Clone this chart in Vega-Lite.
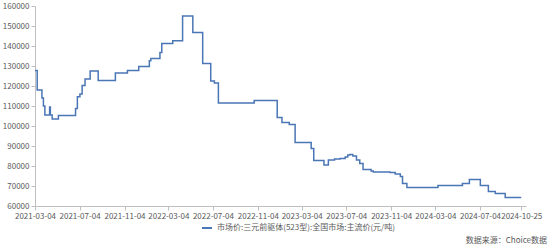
{
  "$schema": "https://vega.github.io/schema/vega-lite/v6.json",
  "width": 491,
  "height": 200,
  "autosize": "none",
  "padding": {"left": 35, "top": 6, "right": 24, "bottom": 39},
  "background": "white",
  "config": {
    "view": {"stroke": null},
    "font": "Noto Sans CJK SC",
    "axis": {"grid": false, "domainColor": "#bfbfbf", "tickColor": "#bfbfbf", "labelColor": "#595959", "labelFontSize": 8, "tickSize": 4, "labelFont": "Noto Sans CJK SC", "titleFontSize": 8}
  },
  "title": {"text": "数据来源：Choice数据", "orient": "bottom", "anchor": "end", "frame": "group", "fontSize": 8, "fontWeight": "normal", "color": "#595959", "font": "Noto Sans CJK SC", "offset": 5, "dx": 21},
  "data": {
    "values": [
      {"date": "2021-03-04", "value": 127800},
      {"date": "2021-03-10", "value": 118000},
      {"date": "2021-03-23", "value": 114000},
      {"date": "2021-03-27", "value": 110000},
      {"date": "2021-03-31", "value": 105500},
      {"date": "2021-04-13", "value": 109500},
      {"date": "2021-04-15", "value": 105500},
      {"date": "2021-04-20", "value": 103500},
      {"date": "2021-05-07", "value": 105300},
      {"date": "2021-06-23", "value": 108800},
      {"date": "2021-06-28", "value": 114600},
      {"date": "2021-07-05", "value": 116000},
      {"date": "2021-07-11", "value": 120200},
      {"date": "2021-07-19", "value": 123500},
      {"date": "2021-08-02", "value": 127500},
      {"date": "2021-08-24", "value": 122700},
      {"date": "2021-10-10", "value": 126500},
      {"date": "2021-11-12", "value": 127700},
      {"date": "2021-12-13", "value": 129800},
      {"date": "2022-01-11", "value": 132600},
      {"date": "2022-01-15", "value": 133800},
      {"date": "2022-02-09", "value": 136700},
      {"date": "2022-02-14", "value": 141300},
      {"date": "2022-03-16", "value": 142600},
      {"date": "2022-04-12", "value": 155000},
      {"date": "2022-05-10", "value": 146700},
      {"date": "2022-06-06", "value": 131300},
      {"date": "2022-06-28", "value": 122500},
      {"date": "2022-07-08", "value": 121500},
      {"date": "2022-07-19", "value": 111500},
      {"date": "2022-10-25", "value": 112700},
      {"date": "2022-12-27", "value": 104200},
      {"date": "2023-01-09", "value": 101800},
      {"date": "2023-01-29", "value": 100800},
      {"date": "2023-02-14", "value": 91800},
      {"date": "2023-03-30", "value": 88800},
      {"date": "2023-04-06", "value": 82800},
      {"date": "2023-05-04", "value": 80500},
      {"date": "2023-05-16", "value": 83000},
      {"date": "2023-06-02", "value": 83500},
      {"date": "2023-06-17", "value": 83800},
      {"date": "2023-07-01", "value": 84500},
      {"date": "2023-07-08", "value": 85500},
      {"date": "2023-07-14", "value": 85800},
      {"date": "2023-07-22", "value": 85000},
      {"date": "2023-08-01", "value": 83000},
      {"date": "2023-08-10", "value": 81300},
      {"date": "2023-08-19", "value": 78200},
      {"date": "2023-09-10", "value": 77500},
      {"date": "2023-09-16", "value": 77000},
      {"date": "2023-11-01", "value": 76800},
      {"date": "2023-11-15", "value": 76000},
      {"date": "2023-11-29", "value": 74700},
      {"date": "2023-12-05", "value": 71300},
      {"date": "2023-12-17", "value": 69300},
      {"date": "2024-03-11", "value": 70300},
      {"date": "2024-05-17", "value": 71200},
      {"date": "2024-06-05", "value": 73200},
      {"date": "2024-07-05", "value": 70200},
      {"date": "2024-07-27", "value": 67200},
      {"date": "2024-08-15", "value": 66300},
      {"date": "2024-09-11", "value": 64300},
      {"date": "2024-10-25", "value": 64300}
    ]
  },
  "transform": [{"calculate": "'市场价:三元前驱体(523型):全国市场:主流价(元/吨)'", "as": "series"}],
  "mark": {"type": "line", "interpolate": "step-after", "strokeWidth": 1.5},
  "encoding": {
    "x": {
      "field": "date",
      "type": "temporal",
      "scale": {"type": "utc", "domain": [{"year": 2021, "month": 3, "date": 4, "utc": true}, {"year": 2024, "month": 11, "date": 7, "utc": true}]},
      "axis": {
        "title": null,
        "format": "%Y-%m-%d",
        "labelPadding": 2,
        "values": [
          {"year": 2021, "month": 3, "date": 4, "utc": true},
          {"year": 2021, "month": 7, "date": 4, "utc": true},
          {"year": 2021, "month": 11, "date": 4, "utc": true},
          {"year": 2022, "month": 3, "date": 4, "utc": true},
          {"year": 2022, "month": 7, "date": 4, "utc": true},
          {"year": 2022, "month": 11, "date": 4, "utc": true},
          {"year": 2023, "month": 3, "date": 4, "utc": true},
          {"year": 2023, "month": 7, "date": 4, "utc": true},
          {"year": 2023, "month": 11, "date": 4, "utc": true},
          {"year": 2024, "month": 3, "date": 4, "utc": true},
          {"year": 2024, "month": 7, "date": 4, "utc": true},
          {"year": 2024, "month": 10, "date": 25, "utc": true}
        ],
        "labelOverlap": false,
        "labelFlush": false
      }
    },
    "y": {
      "field": "value",
      "type": "quantitative",
      "scale": {"domain": [60000, 160000], "nice": false, "zero": false},
      "axis": {"title": null, "values": [60000, 70000, 80000, 90000, 100000, 110000, 120000, 130000, 140000, 150000, 160000], "format": "d", "labelPadding": 2, "labelOverlap": false, "labelFlush": false}
    },
    "color": {
      "field": "series",
      "type": "nominal",
      "scale": {"range": ["#4a76b5"]},
      "legend": {"title": null, "orient": "none", "legendX": 166, "legendY": 216, "symbolType": "stroke", "symbolSize": 100, "symbolStrokeWidth": 2, "labelFontSize": 8, "labelColor": "#595959", "labelFont": "Noto Sans CJK SC", "labelLimit": 400}
    }
  }
}
